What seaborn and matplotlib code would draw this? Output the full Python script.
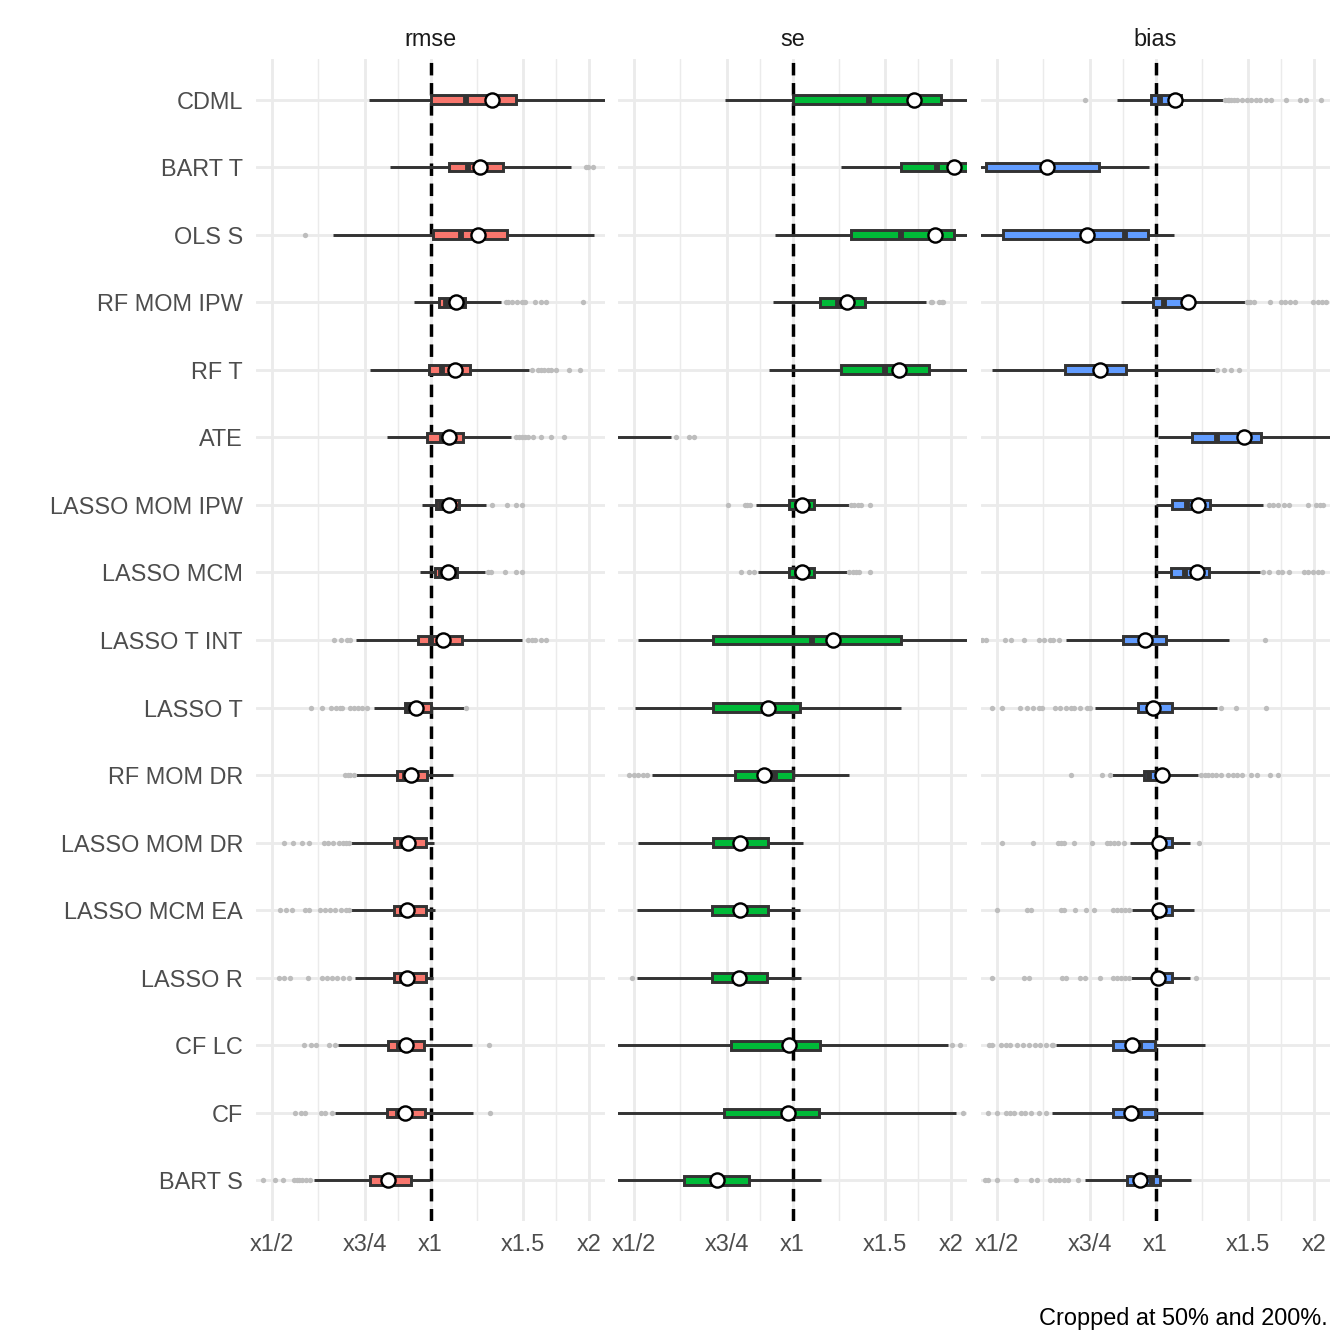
import matplotlib
matplotlib.use("Agg")
import matplotlib.pyplot as plt
import numpy as np
import pandas as pd
import seaborn as sns
from matplotlib.ticker import FixedLocator, FixedFormatter, NullFormatter

sns.set_theme(style="white")
plt.rcParams["font.family"] = ["Liberation Sans", "DejaVu Sans"]

METHODS = ["CDML", "BART T", "OLS S", "RF MOM IPW", "RF T", "ATE",
           "LASSO MOM IPW", "LASSO MCM", "LASSO T INT", "LASSO T",
           "RF MOM DR", "LASSO MOM DR", "LASSO MCM EA", "LASSO R",
           "CF LC", "CF", "BART S"]

PANELS = ["rmse", "se", "bias"]
COLORS = ["#F8766D", "#00BA38", "#619CFF"]

# ---------------- rmse ----------------
RMSE_LOW = [0.763, 0.837, 0.654, 0.930, 0.769, 0.827, 0.964, 0.957, 0.721,
            0.780, 0.721, 0.705, 0.705, 0.718, 0.668, 0.660, 0.600]
RMSE_Q1 = [1.000, 1.082, 1.012, 1.039, 0.993, 0.983, 1.023, 1.021, 0.948,
           0.893, 0.862, 0.854, 0.854, 0.854, 0.832, 0.826, 0.767]
RMSE_MED = [1.169, 1.177, 1.142, 1.072, 1.052, 1.052, 1.048, 1.045, 1.000,
            0.905, 0.894, 0.884, 0.884, 0.881, 0.870, 0.866, 0.830]
RMSE_Q3 = [1.450, 1.374, 1.399, 1.165, 1.188, 1.154, 1.132, 1.121, 1.150,
           1.000, 0.983, 0.980, 0.980, 0.980, 0.974, 0.975, 0.918]
RMSE_HIGH = [2.300, 1.850, 2.040, 1.358, 1.537, 1.423, 1.276, 1.268, 1.489,
             1.160, 1.101, 1.015, 1.018, 1.009, 1.200, 1.205, 0.997]
RMSE_MEAN = [1.307, 1.244, 1.229, 1.119, 1.111, 1.085, 1.082, 1.080, 1.054,
             0.939, 0.919, 0.906, 0.904, 0.903, 0.899, 0.895, 0.829]
RMSE_OUT = [
    [],
    [1.97, 1.99, 2.03],
    [0.577],
    [1.388, 1.406, 1.43, 1.46, 1.49, 1.51, 1.58, 1.62, 1.66, 1.946],
    [1.555, 1.60, 1.62, 1.645, 1.67, 1.69, 1.727, 1.83, 1.92],
    [1.45, 1.47, 1.49, 1.51, 1.53, 1.566, 1.62, 1.69, 1.79],
    [1.311, 1.394, 1.454, 1.493],
    [1.283, 1.30, 1.383, 1.454, 1.489],
    [0.657, 0.675, 0.695, 0.703, 1.534, 1.555, 1.58, 1.618, 1.653],
    [0.594, 0.622, 0.648, 0.663, 0.672, 0.679, 0.705, 0.717, 0.730, 0.742, 0.758, 1.17],
    [0.688, 0.696, 0.705, 0.717],
    [0.527, 0.549, 0.570, 0.589, 0.629, 0.640, 0.654, 0.669, 0.681, 0.692, 0.700],
    [0.519, 0.533, 0.546, 0.579, 0.588, 0.618, 0.632, 0.646, 0.660, 0.675, 0.690, 0.700],
    [0.515, 0.527, 0.541, 0.585, 0.623, 0.637, 0.651, 0.666, 0.681, 0.700],
    [0.575, 0.593, 0.606, 0.643, 0.660, 1.292],
    [0.552, 0.569, 0.577, 0.621, 0.632, 0.651, 1.298],
    [0.481, 0.508, 0.525, 0.550, 0.557, 0.564, 0.571, 0.580, 0.590],
]

# ---------------- se ----------------
SE_LOW = [0.745, 1.238, 0.928, 0.920, 0.904, 0.300, 0.852, 0.859, 0.510,
          0.502, 0.541, 0.509, 0.507, 0.507, 0.450, 0.450, 0.450]
SE_Q1 = [1.000, 1.609, 1.293, 1.129, 1.236, 0.360, 0.983, 0.986, 0.708,
         0.706, 0.779, 0.706, 0.703, 0.705, 0.765, 0.740, 0.622]
SE_MED = [1.395, 1.880, 1.609, 1.220, 1.500, 0.390, 1.020, 1.020, 1.089,
          0.890, 0.925, 0.790, 0.790, 0.790, 0.985, 0.979, 0.720]
SE_Q3 = [1.913, 2.250, 2.027, 1.371, 1.819, 0.430, 1.100, 1.100, 1.609,
         1.032, 1.002, 0.900, 0.899, 0.896, 1.126, 1.121, 0.827]
SE_HIGH = [2.300, 2.600, 2.300, 1.793, 2.300, 0.589, 1.282, 1.269, 2.300,
           1.607, 1.282, 1.047, 1.035, 1.036, 1.972, 2.044, 1.131]
SE_MEAN = [1.704, 2.024, 1.863, 1.269, 1.595, 0.400, 1.044, 1.041, 1.192,
           0.900, 0.884, 0.795, 0.796, 0.792, 0.985, 0.979, 0.719]
SE_OUT = [
    [],
    [],
    [],
    [1.83, 1.84, 1.90, 1.92, 1.93],
    [],
    [0.600, 0.637, 0.649],
    [0.755, 0.811, 0.820, 0.831, 1.29, 1.31, 1.33, 1.35, 1.405],
    [0.800, 0.826, 0.847, 1.28, 1.30, 1.32, 1.34, 1.40],
    [],
    [],
    [0.489, 0.500, 0.510, 0.520, 0.530],
    [],
    [],
    [0.497],
    [2.01, 2.08],
    [2.105],
    [],
]

# ---------------- bias ----------------
BIAS_LOW = [0.845, 0.450, 0.450, 0.860, 0.490, 1.010, 1.000, 1.000, 0.676,
            0.768, 0.826, 0.895, 0.902, 0.900, 0.648, 0.636, 0.735]
BIAS_Q1 = [0.981, 0.477, 0.514, 0.991, 0.674, 1.172, 1.077, 1.071, 0.867,
           0.928, 0.949, 1.000, 1.000, 1.000, 0.832, 0.829, 0.882]
BIAS_MED = [1.021, 0.623, 0.876, 1.040, 0.783, 1.311, 1.147, 1.140, 0.960,
            0.990, 0.973, 1.010, 1.010, 1.010, 0.935, 0.935, 0.984]
BIAS_Q3 = [1.119, 0.782, 0.967, 1.164, 0.880, 1.586, 1.270, 1.265, 1.048,
           1.074, 1.043, 1.076, 1.074, 1.074, 0.996, 0.996, 1.018]
BIAS_HIGH = [1.346, 0.972, 1.082, 1.476, 1.295, 2.300, 1.597, 1.580, 1.376,
             1.311, 1.204, 1.164, 1.184, 1.164, 1.242, 1.230, 1.169]
BIAS_MEAN = [1.090, 0.623, 0.741, 1.152, 0.783, 1.469, 1.204, 1.200, 0.957,
             0.990, 1.028, 1.016, 1.015, 1.013, 0.902, 0.900, 0.934]
BIAS_OUT = [
    [0.735, 1.356, 1.37, 1.38, 1.39, 1.41, 1.43, 1.46, 1.49, 1.52, 1.55, 1.58,
     1.62, 1.66, 1.766, 1.88, 1.93, 2.06],
    [],
    [],
    [1.49, 1.51, 1.54, 1.65, 1.73, 1.76, 1.80, 1.84, 1.99, 2.03, 2.07, 2.11],
    [1.31, 1.35, 1.39, 1.44],
    [],
    [1.64, 1.67, 1.71, 1.75, 1.79, 1.95, 2.02, 2.05, 2.08],
    [1.60, 1.64, 1.71, 1.74, 1.79, 1.91, 1.95, 1.99, 2.03, 2.07],
    [0.469, 0.476, 0.519, 0.533, 0.564, 0.600, 0.615, 0.630, 0.640, 0.655, 1.615],
    [0.489, 0.512, 0.553, 0.570, 0.585, 0.600, 0.610, 0.645, 0.660, 0.675, 0.690,
     0.700, 0.720, 0.740, 0.750, 1.33, 1.42, 1.62],
    [0.692, 0.790, 0.820, 1.22, 1.24, 1.26, 1.28, 1.30, 1.33, 1.37, 1.40, 1.43,
     1.46, 1.52, 1.56, 1.65, 1.71],
    [0.512, 0.585, 0.654, 0.663, 0.670, 0.700, 0.758, 0.810, 0.820, 0.835, 0.850,
     0.870, 1.207],
    [0.500, 0.570, 0.580, 0.662, 0.671, 0.704, 0.738, 0.766, 0.830, 0.845, 0.860,
     0.875, 0.890],
    [0.490, 0.564, 0.576, 0.665, 0.676, 0.720, 0.735, 0.786, 0.830, 0.845, 0.860,
     0.875, 0.890, 1.195],
    [0.484, 0.490, 0.510, 0.520, 0.530, 0.545, 0.560, 0.575, 0.590, 0.605, 0.620,
     0.635, 0.640],
    [0.480, 0.500, 0.520, 0.530, 0.540, 0.555, 0.565, 0.580, 0.600, 0.620],
    [0.474, 0.480, 0.500, 0.544, 0.580, 0.597, 0.632, 0.645, 0.655, 0.670, 0.683,
     0.713],
]

TICK_VALUES = [0.5, 0.75, 1.0, 1.5, 2.0]
TICK_LABELS = ["x1/2", "x3/4", "x1", "x1.5", "x2"]
MINOR_VALUES = [0.6124, 0.8660, 1.2247, 1.7321]
CAPTION = "Cropped at 50% and 200%."

SUMMARIES = [
    (RMSE_LOW, RMSE_Q1, RMSE_MED, RMSE_Q3, RMSE_HIGH, RMSE_MEAN, RMSE_OUT),
    (SE_LOW, SE_Q1, SE_MED, SE_Q3, SE_HIGH, SE_MEAN, SE_OUT),
    (BIAS_LOW, BIAS_Q1, BIAS_MED, BIAS_Q3, BIAS_HIGH, BIAS_MEAN, BIAS_OUT),
]

W = H = 1344
fig = plt.figure(figsize=(7, 7), dpi=192)
fig.patch.set_facecolor("white")

lefts = [256, 618, 981]
pw = 349
ptop, pbot = 59, 1221
GRID = "#EBEBEB"

for i, (name, col, summ) in enumerate(zip(PANELS, COLORS, SUMMARIES)):
    lo, q1, md, q3, hi, mn, out = summ
    ax = fig.add_axes([lefts[i] / W, 1 - pbot / H, pw / W, (pbot - ptop) / H])
    ax.set_facecolor("white")
    ax.set_xscale("log", base=2)

    rows = []
    for m, a, b, c, d, e in zip(METHODS, lo, q1, md, q3, hi):
        for v in (a, b, c, d, e):
            rows.append((m, v))
    box_df = pd.DataFrame(rows, columns=["method", "value"])

    out_rows = [(m, v) for m, vals in zip(METHODS, out) for v in vals]
    out_df = pd.DataFrame(out_rows, columns=["method", "value"])
    mean_df = pd.DataFrame({"method": METHODS, "value": mn})

    ax.axvline(1.0, color="black", lw=1.3, dashes=(3.6, 2.2), zorder=1.5)

    sns.boxplot(data=box_df, x="value", y="method", order=METHODS, orient="h",
                whis=(0, 100), width=0.13, color=col, saturation=1,
                linecolor="#333333", linewidth=1.1, showcaps=False,
                showfliers=False, medianprops={"linewidth": 2.2}, ax=ax)
    if len(out_df):
        sns.stripplot(data=out_df, x="value", y="method", order=METHODS,
                      orient="h", jitter=False, color="#BDBDBD", size=2.0,
                      linewidth=0, ax=ax, zorder=3)
    sns.stripplot(data=mean_df, x="value", y="method", order=METHODS,
                  orient="h", jitter=False, color="white", edgecolor="black",
                  linewidth=0.9, size=5.3, ax=ax, zorder=5)

    ax.set_xlim(2 ** -1.1, 2 ** 1.1)
    ax.set_ylim(len(METHODS) - 1 + 0.6, -0.6)
    ax.xaxis.set_major_locator(FixedLocator(TICK_VALUES))
    ax.xaxis.set_major_formatter(FixedFormatter(TICK_LABELS))
    ax.xaxis.set_minor_locator(FixedLocator(MINOR_VALUES))
    ax.xaxis.set_minor_formatter(NullFormatter())
    ax.set_axisbelow(True)
    ax.grid(True, which="major", axis="both", color=GRID, lw=1.07)
    ax.grid(True, which="minor", axis="x", color=GRID, lw=0.55)
    for s in ax.spines.values():
        s.set_visible(False)
    ax.tick_params(axis="both", which="both", length=0)
    ax.tick_params(axis="x", labelsize=8.8, labelcolor="#4D4D4D", pad=4.5)
    ax.tick_params(axis="y", labelsize=8.8, labelcolor="#4D4D4D", pad=4.9)
    if i > 0:
        ax.tick_params(axis="y", labelleft=False)
    ax.set_xlabel("")
    ax.set_ylabel("")
    ax.set_title(name, fontsize=8.8, color="#1A1A1A", pad=5.0)

fig.text(1328 / W, 1 - 1324.5 / H, CAPTION, ha="right", va="baseline",
         fontsize=8.8, color="black")

fig.savefig("out.png", dpi=192, facecolor="white")
